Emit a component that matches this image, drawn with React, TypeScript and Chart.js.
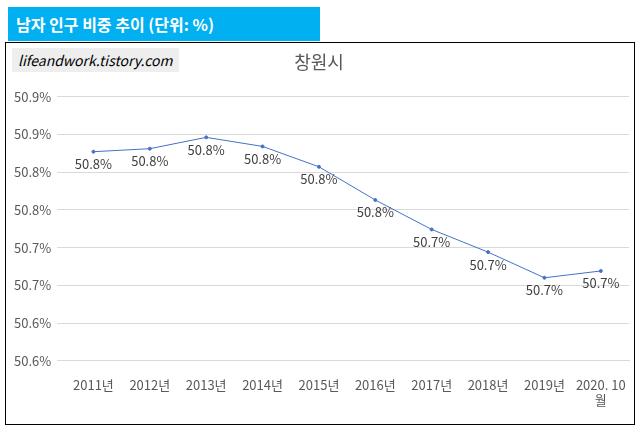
import React, { useEffect, useRef } from "react";
import { Chart, registerables } from "chart.js";
Chart.register(...registerables);

const categories: (string | string[])[] = ["2011년","2012년","2013년","2014년","2015년","2016년","2017년","2018년","2019년",["2020. 10","월"]];
const values = [50.867, 50.871, 50.886, 50.874, 50.847, 50.803, 50.764, 50.734, 50.700, 50.709];
const valueLabels = ["50.8%","50.8%","50.8%","50.8%","50.8%","50.8%","50.7%","50.7%","50.7%","50.7%"];
const tickValues = [50.59, 50.64, 50.69, 50.74, 50.79, 50.84, 50.89, 50.94];
const tickLabels = ["50.6%","50.6%","50.7%","50.7%","50.8%","50.8%","50.9%","50.9%"];

const FONT = "'Noto Sans CJK KR', 'Noto Sans', sans-serif";

export default function App() {
  const ref = useRef<HTMLCanvasElement>(null);
  useEffect(() => {
    const labelPlugin = {
      id: "dl",
      afterDatasetsDraw(chart: any) {
        const ctx = chart.ctx;
        const meta = chart.getDatasetMeta(0);
        ctx.save();
        ctx.font = `13px ${FONT}`;
        ctx.fillStyle = "#404040";
        ctx.textAlign = "center";
        ctx.textBaseline = "top";
        meta.data.forEach((p: any, i: number) => ctx.fillText(valueLabels[i], p.x, p.y + 6));
        ctx.restore();
      },
    };
    const c = new Chart(ref.current!, {
      type: "line",
      data: {
        labels: categories as any,
        datasets: [{
          data: values,
          borderColor: "#4472C4",
          backgroundColor: "#4472C4",
          borderWidth: 1,
          pointRadius: 1.5,
          tension: 0,
        }],
      },
      options: {
        animation: false,
        responsive: false,
        layout: { padding: { left: 2, right: 4, top: 8, bottom: 8 } },
        plugins: {
          legend: { display: false },
          tooltip: { enabled: false },
          title: { display: true, text: "창원시", color: "#595959", font: { family: FONT, size: 18, weight: "normal" }, padding: { top: 0, bottom: 24 } },
        },
        scales: {
          x: {
            offset: true,
            grid: { display: false },
            border: { color: "#d9d9d9" },
            ticks: { color: "#595959", font: { family: FONT, size: 13 }, maxRotation: 0, autoSkip: false, padding: 8 },
          },
          y: {
            min: 50.59, max: 50.94,
            afterBuildTicks: (s: any) => { s.ticks = tickValues.map(v => ({ value: v })); },
            grid: { color: "#d9d9d9" },
            border: { display: false },
            ticks: {
              color: "#595959", font: { family: FONT, size: 13 }, padding: 6,
              callback: (_v: any, i: number) => tickLabels[i],
            },
          },
        },
      },
      plugins: [labelPlugin],
    });
    return () => c.destroy();
  }, []);
  return (
    <div style={{ position: "absolute", left: 0, top: 0, width: 642, height: 433, background: "#fff", overflow: "hidden" }}>
      <div style={{ position: "absolute", left: 8, top: 7, width: 312, height: 34, background: "#00B0F0", color: "#fff", fontFamily: FONT, fontWeight: "bold", fontSize: 16, lineHeight: "34px", paddingLeft: 8, boxSizing: "border-box" }}>
        남자 인구 비중 추이 (단위: %)
      </div>
      <canvas ref={ref} width={628} height={381} style={{ position: "absolute", left: 6, top: 43, width: 628, height: 381 }} />
      <div style={{ position: "absolute", left: 12, top: 48, background: "#eeeeee", color: "#000", fontFamily: FONT, fontStyle: "italic", fontSize: 14, padding: "2px 6px" }}>
        lifeandwork.tistory.com
      </div>
      <div style={{ position: "absolute", left: 5, top: 42, width: 630, height: 383, border: "1px solid #000", boxSizing: "border-box", pointerEvents: "none" }} />
    </div>
  );
}
